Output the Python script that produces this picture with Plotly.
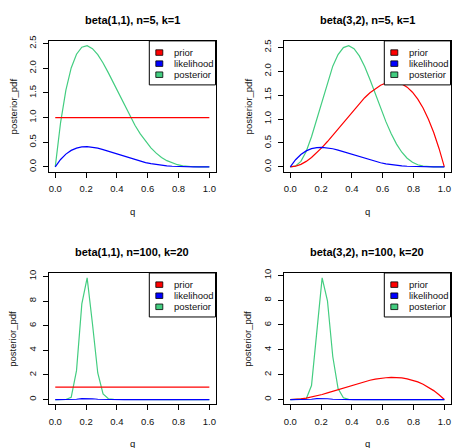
import plotly.graph_objects as go

W, H = 452, 448
FONT = "Liberation Sans, Arial, Helvetica, sans-serif"
RED, BLUE, GREEN = "#FF0000", "#0000FF", "#43CD80"

# grid of success probabilities q (30 points from 0 to 1)
q = [0.0, 0.0345, 0.069, 0.1034, 0.1379, 0.1724, 0.2069, 0.2414, 0.2759, 0.3103,
     0.3448, 0.3793, 0.4138, 0.4483, 0.4828, 0.5172, 0.5517, 0.5862, 0.6207, 0.6552,
     0.6897, 0.7241, 0.7586, 0.7931, 0.8276, 0.8621, 0.8966, 0.931, 0.9655, 1.0]

# priors
prior_beta11 = [1.0, 1.0, 1.0, 1.0, 1.0, 1.0, 1.0, 1.0, 1.0, 1.0,
                1.0, 1.0, 1.0, 1.0, 1.0, 1.0, 1.0, 1.0, 1.0, 1.0,
                1.0, 1.0, 1.0, 1.0, 1.0, 1.0, 1.0, 1.0, 1.0, 1.0]
prior_beta32 = [0.0, 0.0138, 0.0531, 0.1151, 0.1968, 0.2952, 0.4074, 0.5304, 0.6613, 0.7971,
                0.9349, 1.0716, 1.2045, 1.3304, 1.4466, 1.5499, 1.6375, 1.7064, 1.7536, 1.7762,
                1.7713, 1.7359, 1.667, 1.5617, 1.417, 1.2301, 0.9978, 0.7174, 0.3857, 0.0]

# likelihoods
lik_n5_k1 = [0.0, 0.1498, 0.2591, 0.3342, 0.3809, 0.4044, 0.4093, 0.3997, 0.3793, 0.351,
             0.3177, 0.2815, 0.2443, 0.2077, 0.1728, 0.1405, 0.1114, 0.0859, 0.0642, 0.0463,
             0.032, 0.021, 0.0129, 0.0073, 0.0037, 0.0016, 0.0005, 0.0001, 0.0, 0.0]
lik_n100_k20 = [0.0, 0.0, 0.00001, 0.0017, 0.0232, 0.0769, 0.0978, 0.061, 0.0213, 0.0045,
                0.0006, 0.0001, 0.0, 0.0, 0.0, 0.0, 0.0, 0.0, 0.0, 0.0,
                0.0, 0.0, 0.0, 0.0, 0.0, 0.0, 0.0, 0.0, 0.0, 0.0]

# posteriors
post_beta11_n5_k1 = [0.0, 0.899, 1.555, 2.005, 2.285, 2.426, 2.456, 2.398, 2.276, 2.106,
                     1.906, 1.689, 1.466, 1.246, 1.037, 0.843, 0.668, 0.516, 0.385, 0.278,
                     0.192, 0.126, 0.077, 0.044, 0.022, 0.009, 0.003, 0.001, 0.0, 0.0]
post_beta32_n5_k1 = [0.0, 0.0173, 0.1157, 0.3232, 0.6297, 1.0028, 1.4007, 1.781, 2.1067, 2.3504,
                     2.4948, 2.5339, 2.4719, 2.3211, 2.0994, 1.8288, 1.5323, 1.2317, 0.9463, 0.6911,
                     0.476, 0.3058, 0.1804, 0.0954, 0.0436, 0.0161, 0.0043, 0.0007, 0.0, 0.0]
post_beta11_n100_k20 = [0.0, 0.0, 0.0011, 0.1714, 2.3446, 7.762, 9.883, 6.158, 2.1528, 0.458,
                        0.0622, 0.0055, 0.0003, 0.0, 0.0, 0.0, 0.0, 0.0, 0.0, 0.0,
                        0.0, 0.0, 0.0, 0.0, 0.0, 0.0, 0.0, 0.0, 0.0, 0.0]
post_beta32_n100_k20 = [0.0, 0.0, 0.0001, 0.048, 1.1227, 5.5755, 9.7965, 7.947, 3.4638, 0.8883,
                        0.1415, 0.0144, 0.001, 0.0, 0.0, 0.0, 0.0, 0.0, 0.0, 0.0,
                        0.0, 0.0, 0.0, 0.0, 0.0, 0.0, 0.0, 0.0, 0.0, 0.0]

titles = ["beta(1,1), n=5, k=1", "beta(3,2), n=5, k=1",
          "beta(1,1), n=100, k=20", "beta(3,2), n=100, k=20"]
x_ticks = [0.0, 0.2, 0.4, 0.6, 0.8, 1.0]
y_ticks_small = [0.0, 0.5, 1.0, 1.5, 2.0, 2.5]
y_ticks_large = [0, 2, 4, 6, 8, 10]
legend_labels = ["prior", "likelihood", "posterior"]

# panel boxes in pixels: left, top, right, bottom
boxes = [(49.1, 36.3, 215.5, 168.6), (284.1, 36.3, 450.5, 168.6),
         (49.1, 271.0, 215.5, 403.9), (284.1, 271.0, 450.5, 403.9)]

panels = [
    (prior_beta11, lik_n5_k1, post_beta11_n5_k1, y_ticks_small, ".1f"),
    (prior_beta32, lik_n5_k1, post_beta32_n5_k1, y_ticks_small, ".1f"),
    (prior_beta11, lik_n100_k20, post_beta11_n100_k20, y_ticks_large, "d"),
    (prior_beta32, lik_n100_k20, post_beta32_n100_k20, y_ticks_large, "d"),
]


def fx(p):
    return p / W


def fy(p):
    return 1 - p / H


fig = go.Figure()
shapes, annotations = [], []
layout = dict(width=W, height=H, margin=dict(l=0, r=0, t=0, b=0),
              paper_bgcolor="white", plot_bgcolor="white", showlegend=False,
              font=dict(family=FONT, size=9.5, color="black"))

for i, ((prior, lik, post, yt, yfmt), (bl, bt, br, bb), title) in enumerate(zip(panels, boxes, titles)):
    n = "" if i == 0 else str(i + 1)
    xa, ya = "x" + n, "y" + n
    lo, hi = min(post), max(post)
    pad = 0.04 * (hi - lo)
    for ys, col in ((post, GREEN), (prior, RED), (lik, BLUE)):
        fig.add_trace(go.Scatter(x=q, y=ys, mode="lines", xaxis=xa, yaxis=ya,
                                 line=dict(color=col, width=1.2), hoverinfo="skip"))
    common = dict(showline=True, mirror=True, linecolor="black", linewidth=1,
                  ticks="outside", ticklen=5, tickwidth=1, tickcolor="black",
                  showgrid=False, zeroline=False,
                  tickfont=dict(family=FONT, size=9.5, color="#111"))
    layout["xaxis" + n] = dict(common, domain=[fx(bl), fx(br)], anchor=ya,
                               range=[-0.04, 1.04], tickvals=x_ticks, tickformat=".1f",
                               ticklabelstandoff=3)
    layout["yaxis" + n] = dict(common, domain=[fy(bb), fy(bt)], anchor=xa,
                               range=[lo - pad, hi + pad], tickvals=yt, tickformat=yfmt,
                               tickangle=-90, ticklabelstandoff=3)

    cx, cy = (bl + br) / 2, (bt + bb) / 2
    annotations.append(dict(text="<b>" + title + "</b>", x=fx(cx), y=fy(bt - 21.5),
                            xref="paper", yref="paper", showarrow=False,
                            xanchor="center", yanchor="middle",
                            font=dict(family=FONT, size=11, color="black")))
    annotations.append(dict(text="q", x=fx(cx), y=fy(bb + 40), xref="paper", yref="paper",
                            showarrow=False, xanchor="center", yanchor="middle",
                            font=dict(family=FONT, size=9.5, color="#111")))
    annotations.append(dict(text="posterior_pdf", x=fx(bl - 36), y=fy(cy), xref="paper",
                            yref="paper", showarrow=False, textangle=-90,
                            xanchor="center", yanchor="middle",
                            font=dict(family=FONT, size=9.5, color="#111")))

    # legend frame at the top-right corner of the panel
    lx0, ly0 = br - 66.2, bt
    shapes.append(dict(type="rect", xref="paper", yref="paper", layer="above",
                       x0=fx(lx0), x1=fx(br), y0=fy(ly0 + 44.5), y1=fy(ly0),
                       fillcolor="white", line=dict(color="black", width=1)))
    for j, (lab, col) in enumerate(zip(legend_labels, (RED, BLUE, GREEN))):
        ry = ly0 + 11.8 + j * 11.2
        shapes.append(dict(type="rect", xref="paper", yref="paper", layer="above",
                           x0=fx(lx0 + 6.5), x1=fx(lx0 + 13.5),
                           y0=fy(ry + 2.8), y1=fy(ry - 2.8),
                           fillcolor=col, line=dict(color="black", width=0.8)))
        annotations.append(dict(text=lab, x=fx(lx0 + 22.5), y=fy(ry), xref="paper",
                                yref="paper", showarrow=False, xanchor="left",
                                yanchor="middle",
                                font=dict(family=FONT, size=9.5, color="#111")))

layout["shapes"] = shapes
layout["annotations"] = annotations
fig.update_layout(**layout)
fig.write_html("out.html", config={"displayModeBar": False})
